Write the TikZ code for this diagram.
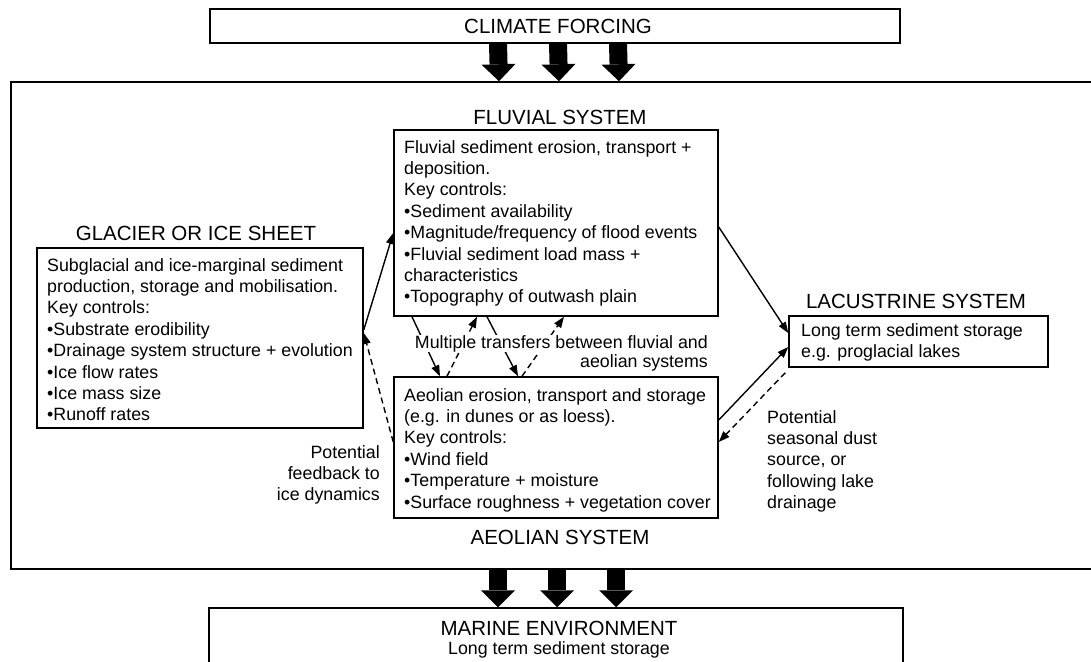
\documentclass[tikz,border=0pt]{standalone}
\usepackage{fontspec}
\setmainfont{Liberation Sans}
\usetikzlibrary{arrows.meta}
\begin{document}
\begin{tikzpicture}[x=1pt,y=-1pt,
  box/.style={draw, line width=1.5pt, inner sep=0pt},
  body/.style={font=\fontsize{17.8pt}{21.4pt}\selectfont, inner sep=0pt},
  ttl/.style={font=\fontsize{20.5pt}{24pt}\selectfont, inner sep=0pt},
  arr/.style={line width=1.4pt, -{Triangle[length=11pt,width=8pt]}},
  darr/.style={arr, dash pattern=on 6pt off 4pt},
  big/.style={line width=18pt, -{Triangle[length=17pt,width=34pt,line width=0pt]}}]
\useasboundingbox (0,0) rectangle (1091,661);
\clip (0,0) rectangle (1091,661);

% boxes
\node[box, minimum width=1089pt, minimum height=487pt] (region) at (555.5,325.5) {};
\node[box, minimum width=690pt, minimum height=34pt] (climate) at (555,26) {};
\node[box, minimum width=694pt, minimum height=72pt] (marine) at (556,644) {};
\node[box, minimum width=326pt, minimum height=180pt] (glacier) at (200,338) {};
\node[box, minimum width=324pt, minimum height=186pt] (fluvial) at (556,223) {};
\node[box, minimum width=324pt, minimum height=141pt] (aeolian) at (556,447.5) {};
\node[box, minimum width=259pt, minimum height=51pt] (lacus) at (918.5,341.5) {};

% titles
\node[ttl, anchor=base] (climatet) at (558,34) {CLIMATE FORCING};
\node[ttl, anchor=base] (glaciert) at (196,240) {GLACIER OR ICE SHEET};
\node[ttl, anchor=base] (fluvialt) at (560,124) {FLUVIAL SYSTEM};
\node[ttl, anchor=base] (aeoliant) at (560,544) {AEOLIAN SYSTEM};
\node[ttl, anchor=base] (lacust) at (916,308) {LACUSTRINE SYSTEM};
\node[ttl, anchor=base] (marinet) at (559,635) {MARINE ENVIRONMENT};
\node[body, anchor=base] (marinetx) at (559,654) {Long term sediment storage};

% body texts (base anchor = baseline of last line)
\node[body, anchor=base west, align=left] (glaciertx) at (47,420.8)
 {Subglacial and ice-marginal sediment\\production, storage and mobilisation.\\Key controls:\\\textbullet Substrate erodibility\\\textbullet Drainage system structure + evolution\\\textbullet Ice flow rates\\\textbullet Ice mass size\\\textbullet Runoff rates};
\node[body, anchor=base west, align=left] (fluvialtx) at (404,302.8)
 {Fluvial sediment erosion, transport +\\deposition.\\Key controls:\\\textbullet Sediment availability\\\textbullet Magnitude/frequency of flood events\\\textbullet Fluvial sediment load mass +\\characteristics\\\textbullet Topography of outwash plain};
\node[body, anchor=base west, align=left] (aeoliantx) at (404,508)
 {Aeolian erosion, transport and storage\\(e.g. in dunes or as loess).\\Key controls:\\\textbullet Wind field\\\textbullet Temperature + moisture\\\textbullet Surface roughness + vegetation cover};
\node[body, anchor=base west, align=left, font=\fontsize{17.8pt}{21pt}\selectfont] (lacustx) at (801,357)
 {Long term sediment storage\\e.g. proglacial lakes};
\node[body, anchor=base west, align=left] (dustnote) at (767,508.6)
 {Potential\\seasonal dust\\source, or\\following lake\\drainage};
\node[body, anchor=base east, align=right] (feednote) at (380,500.8)
 {Potential\\feedback to\\ice dynamics};

% transfers between fluvial and aeolian
\draw[arr] ([xshift=-144pt]fluvial.south) -- ([xshift=-116pt]aeolian.north);
\draw[darr] ([xshift=-109pt]aeolian.north) -- ([xshift=-79pt]fluvial.south);
\draw[arr] ([xshift=-69pt]fluvial.south) -- ([xshift=-38pt]aeolian.north);
\draw[darr] ([xshift=-34pt]aeolian.north) -- ([xshift=8pt]fluvial.south);
\node[body, anchor=base east, fill=white] (multi1) at (708,348) {Multiple transfers between fluvial and};
\node[body, anchor=base east] (multi2) at (708,367) {aeolian systems};

% other connectors
\draw[arr] ([yshift=8pt]glacier.east) -- ([yshift=-10pt]fluvial.west);
\draw[darr] ([yshift=5.5pt]aeolian.west) -- ([yshift=5pt]glacier.east);
\draw[arr] ([yshift=-4pt]fluvial.east) -- ([yshift=8.5pt]lacus.west);
\draw[arr] ([yshift=27.5pt]aeolian.east) -- ([yshift=-5.5pt]lacus.west);
\draw[darr] ([xshift=-3pt,yshift=-5pt]lacus.south west) -- ([yshift=5.5pt]aeolian.east);

% big arrows
\foreach \dx in {-57,3,63} {
  \draw[big] ([xshift=\dx pt]climate.south) -- ([xshift=\dx pt+0.5pt]region.north);
}
\foreach \dx in {-58,1,60} {
  \draw[big] ([xshift=\dx pt+0.5pt]region.south) -- ([xshift=\dx pt]marine.north);
}
\end{tikzpicture}
\end{document}
